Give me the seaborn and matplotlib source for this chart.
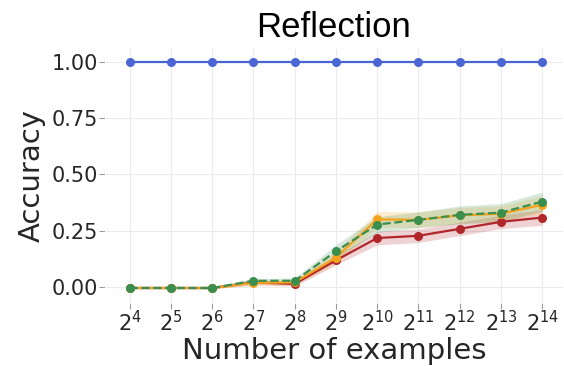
import numpy as np
import pandas as pd
import seaborn as sns
import matplotlib
matplotlib.use("Agg")
import matplotlib.pyplot as plt

# exponents of 2 on the x axis
exponents = [4, 5, 6, 7, 8, 9, 10, 11, 12, 13, 14]

blue_mean = [1.0, 1.0, 1.0, 1.0, 1.0, 1.0, 1.0, 1.0, 1.0, 1.0, 1.0]
red_mean = [-0.005, -0.005, -0.005, 0.02, 0.013, 0.118, 0.217, 0.227, 0.258, 0.289, 0.308]
orange_mean = [-0.005, -0.005, -0.005, 0.018, 0.02, 0.13, 0.30, 0.298, 0.318, 0.325, 0.365]
green_mean = [-0.005, -0.005, -0.005, 0.027, 0.027, 0.158, 0.277, 0.298, 0.32, 0.33, 0.379]

red_err = [0.003, 0.003, 0.004, 0.01, 0.01, 0.02, 0.03, 0.03, 0.03, 0.03, 0.035]
orange_err = [0.003, 0.003, 0.004, 0.012, 0.012, 0.025, 0.035, 0.035, 0.035, 0.035, 0.04]
green_err = [0.003, 0.003, 0.004, 0.01, 0.012, 0.03, 0.035, 0.035, 0.04, 0.04, 0.042]

series_names = ["blue", "red", "orange", "green"]
colors = {"blue": "#4a66d4", "red": "#b0262b", "orange": "#f5a21c", "green": "#3b8f4e"}

df = pd.DataFrame({
    "exp": exponents * 4,
    "acc": blue_mean + red_mean + orange_mean + green_mean,
    "series": sum([[s] * len(exponents) for s in series_names], []),
})

sns.set_style("whitegrid", {
    "axes.edgecolor": "white",
    "grid.color": "#ebebeb",
})
plt.rcParams["font.family"] = ["DejaVu Sans"]

fig = plt.figure(figsize=(5.64, 3.66), dpi=100)
ax = fig.add_axes([0.186, 0.172, 0.812, 0.697])

bands = [("red", red_mean, red_err), ("orange", orange_mean, orange_err), ("green", green_mean, green_err)]
for name, m, e in bands:
    m = np.array(m)
    e = np.array(e)
    ax.fill_between(exponents, m - e, m + e, color=colors[name], alpha=0.2, linewidth=0)

for name in series_names:
    sub = df[df.series == name]
    sns.lineplot(data=sub, x="exp", y="acc", ax=ax, color=colors[name],
                 marker="o", markersize=6.5, markeredgewidth=0, linewidth=1.6,
                 linestyle="--" if name == "green" else "-")

ax.set_xlim(3.4, 14.5)
ax.set_ylim(-0.072, 1.062)
ax.set_xticks(exponents)
ax.set_xticklabels([f"$2^{{{n}}}$" for n in exponents])
ax.set_yticks([0.0, 0.25, 0.5, 0.75, 1.0])
ax.set_yticklabels(["0.00", "0.25", "0.50", "0.75", "1.00"])
ax.tick_params(axis="both", which="major", length=4, width=0.8, color="#999999",
               pad=1, labelsize=15, labelcolor="#262626", bottom=True, left=True)

ax.set_xlabel("Number of examples", fontsize=21, color="#262626", labelpad=1)
ax.set_ylabel("Accuracy", fontsize=21, color="#262626", labelpad=4)
ax.set_title("Reflection", fontsize=25, family=["Liberation Sans"], color="black", pad=8)

fig.savefig("out.png", dpi=100)
